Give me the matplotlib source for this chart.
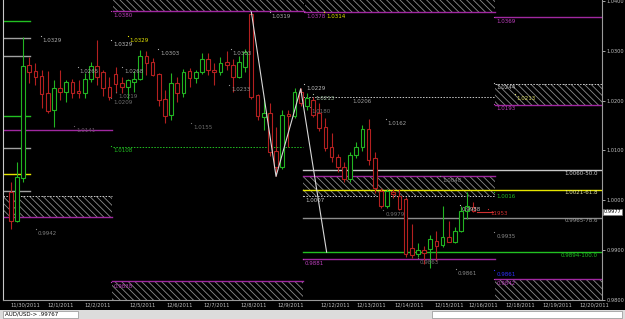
import matplotlib
matplotlib.use('Agg')
import matplotlib.pyplot as plt
from matplotlib.patches import Rectangle

plt.rcParams['hatch.linewidth'] = 0.6

# ---------------- candles (4h bars, AUD/USD) ----------------
opens = [1.0016, 0.9958, 1.0044, 1.0272, 1.0260, 1.0250, 1.0216, 1.0182, 1.0226, 1.0218,
         1.0238, 1.0220, 1.0216, 1.0244, 1.0270, 1.0258, 1.0228, 1.0254, 1.0236, 1.0228,
         1.0238, 1.0244, 1.0289, 1.0277, 1.0254, 1.0204, 1.0172, 1.0236, 1.0216, 1.0260,
         1.0246, 1.0258, 1.0284, 1.0262, 1.0258, 1.0278, 1.0272, 1.0248, 1.0268, 1.0374,
         1.0212, 1.0168, 1.0176, 1.0098, 1.0066, 1.0174, 1.0170, 1.0218, 1.0190, 1.0202,
         1.0176, 1.0148, 1.0108, 1.0086, 1.0066, 1.0042, 1.0090, 1.0108, 1.0144, 1.0084,
         1.0018, 0.9988, 1.0016, 1.0008, 1.0002, 0.9904, 0.9892, 0.9900, 0.9902, 0.9918,
         0.9910, 0.9926, 0.9916, 0.9938, 0.9978, 0.9986]
highs = [1.0036, 1.0076, 1.0328, 1.0288, 1.0276, 1.0262, 1.0260, 1.0242, 1.0262, 1.0242,
         1.0244, 1.0242, 1.0256, 1.0278, 1.0322, 1.0262, 1.0248, 1.0268, 1.0248, 1.0244,
         1.0260, 1.0302, 1.0299, 1.0286, 1.0256, 1.0222, 1.0256, 1.0248, 1.0264, 1.0266,
         1.0262, 1.0296, 1.0296, 1.0276, 1.0288, 1.0300, 1.0284, 1.0290, 1.0304, 1.0378,
         1.0214, 1.0206, 1.0196, 1.0148, 1.0182, 1.0182, 1.0226, 1.0226, 1.0216, 1.0208,
         1.0196, 1.0166, 1.0136, 1.0092, 1.0076, 1.0096, 1.0118, 1.0152, 1.0164, 1.0096,
         1.0024, 1.0022, 1.0022, 1.0022, 1.0006, 0.9952, 0.9914, 0.9908, 0.9930, 0.9938,
         0.9988, 0.9958, 0.9946, 0.9988, 1.0016, 0.9996]
lows = [0.9942, 0.9956, 1.0036, 1.0236, 1.0232, 1.0186, 1.0176, 1.0148, 1.0202, 1.0198,
        1.0206, 1.0206, 1.0206, 1.0238, 1.0232, 1.0210, 1.0202, 1.0216, 1.0216, 1.0204,
        1.0218, 1.0242, 1.0252, 1.0249, 1.0189, 1.0156, 1.0162, 1.0198, 1.0208, 1.0228,
        1.0236, 1.0254, 1.0252, 1.0232, 1.0252, 1.0262, 1.0218, 1.0246, 1.0258, 1.0204,
        1.0162, 1.0142, 1.0088, 1.0048, 1.0062, 1.0108, 1.0166, 1.0190, 1.0182, 1.0168,
        1.0140, 1.0098, 1.0076, 1.0056, 1.0036, 1.0036, 1.0084, 1.0098, 1.0070, 1.0014,
        0.9984, 0.9984, 1.0004, 0.9980, 0.9886, 0.9884, 0.9886, 0.9872, 0.9864, 0.9878,
        0.9906, 0.9916, 0.9914, 0.9936, 0.9962, 0.9976]
closes = [0.9958, 1.0046, 1.0270, 1.0258, 1.0248, 1.0214, 1.0180, 1.0226, 1.0218, 1.0238,
          1.0216, 1.0216, 1.0244, 1.0270, 1.0248, 1.0226, 1.0208, 1.0234, 1.0228, 1.0242,
          1.0244, 1.0289, 1.0276, 1.0252, 1.0202, 1.0170, 1.0236, 1.0216, 1.0258, 1.0246,
          1.0258, 1.0284, 1.0262, 1.0258, 1.0276, 1.0272, 1.0248, 1.0278, 1.0298, 1.0208,
          1.0170, 1.0176, 1.0096, 1.0066, 1.0172, 1.0170, 1.0218, 1.0196, 1.0206, 1.0172,
          1.0146, 1.0106, 1.0086, 1.0066, 1.0042, 1.0090, 1.0108, 1.0144, 1.0080, 1.0024,
          0.9988, 1.0018, 1.0012, 0.9982, 0.9892, 0.9890, 0.9900, 0.9894, 0.9922, 0.9908,
          0.9926, 0.9916, 0.9938, 0.9978, 0.9988, 0.9978]

date_pos = [2.3, 8.15, 14.15, 21.3, 27.3, 33.35, 39.35, 45.3, 52.55, 58.5, 64.6, 71.1,
            76.6, 82.5, 88.5, 94.6]
date_lbl = ['11/30/2011', '12/1/2011', '12/2/2011', '12/5/2011', '12/6/2011', '12/7/2011',
            '12/8/2011', '12/9/2011', '12/12/2011', '12/13/2011', '12/14/2011', '12/15/2011',
            '12/16/2011', '12/18/2011', '12/19/2011', '12/20/2011']

# ---------------- drawn objects ----------------
hatch_zones = [(16.5, 47.6, 1.0380, 1.0410), (47.7, 78.5, 1.0378, 1.0410),
               (78.5, 96.0, 1.0192, 1.0234), (-1.3, 16.4, 0.9966, 1.0008),
               (16.4, 47.4, 0.9790, 0.9838), (47.4, 78.5, 1.0008, 1.0048),
               (78.5, 96.0, 0.9790, 0.9842)]
purple_lines = [(16.5, 47.6, 1.0380), (47.7, 78.5, 1.0378), (78.5, 96.0, 1.0368),
                (78.5, 96.0, 1.0192), (-1.3, 16.4, 1.0142), (-1.3, 16.4, 0.9966),
                (16.4, 47.4, 0.9838), (47.4, 78.5, 1.0048), (47.4, 78.5, 0.9882),
                (78.5, 96.0, 0.9842)]
white_dotted = [(78.5, 96.0, 1.0234), (-1.3, 16.4, 1.0008), (47.4, 78.5, 1.0008),
                (47.4, 78.5, 1.0208)]
green_dotted = [(16.5, 47.4, 1.0108)]

fib_levels = [1.0060, 1.0021, 0.9965, 0.9896]
fib_colors = ['#c8c8c8', '#e6e600', '#8c8c8c', '#22c022']
fib_labels = ['1.0060-50.0', '1.0021-61.8', '0.9965-78.6', '0.9894-100.0']
fib_text_colors = ['#d0d0d0', '#e8e8a0', '#9a9a9a', '#22c022']

left_levels = [1.0360, 1.0326, 1.0290, 1.0170, 1.0106, 1.0053, 1.0018]
left_colors = ['#22c022', '#a0a0a0', '#a0a0a0', '#22c022', '#a0a0a0', '#e6e600', '#a0a0a0']

zz_x = [39, 43, 47, 51.2]
zz_y = [1.0378, 1.0048, 1.0224, 0.9896]

# labels: x index, price, text, color
notes = [
    (5.2, 1.0320, '1.0329', '#b0b0b0'), (16.6, 1.0312, '1.0329', '#c0c0c0'),
    (19.3, 1.0320, '1.0329', '#e6e600'), (24.2, 1.0294, '1.0303', '#b0b0b0'),
    (11.2, 1.0258, '1.0265', '#a0a0a0'), (18.4, 1.0258, '1.0268', '#a0a0a0'),
    (36.0, 1.0294, '1.0303', '#a0a0a0'), (35.7, 1.0222, '1.0233', '#909090'),
    (17.4, 1.0208, '1.0219', '#707070'), (16.6, 1.0196, '1.0209', '#707070'),
    (29.6, 1.0146, '1.0155', '#707070'), (10.6, 1.0140, '1.0141', '#6a5a6a'),
    (42.3, 1.0368, '1.0319', '#b0b0b0'), (47.9, 1.0368, '1.0378', '#c040c0'),
    (51.1, 1.0368, '1.0314', '#e6e600'), (16.6, 1.0370, '1.0380', '#c040c0'),
    (78.7, 1.0358, '1.0369', '#c040c0'), (78.7, 1.0226, '1.0244', '#c0c0c0'),
    (82.0, 1.0204, '1.0213', '#d8d860'), (78.7, 1.0184, '1.0193', '#c040c0'),
    (47.9, 1.0224, '1.0229', '#c0c0c0'), (49.3, 1.0204, '1.0213', '#a0c0a0'),
    (48.8, 1.0178, '1.0180', '#707070'), (55.3, 1.0198, '1.0206', '#a0a0a0'),
    (61.1, 1.0154, '1.0162', '#a0a0a0'), (16.6, 1.0100, '1.0108', '#22c022'),
    (69.9, 1.0040, '1.0048', '#909090'), (47.7, 1.0000, '1.0007', '#c0c0c0'),
    (78.7, 1.0008, '1.0016', '#22c022'), (60.7, 0.9972, '0.9979', '#707070'),
    (73.1, 0.9982, '0.9988', '#c0c0c0'), (77.7, 0.9974, '11953', '#d03030'),
    (78.7, 0.9928, '0.9935', '#8a8a8a'), (66.3, 0.9876, '0.9863', '#707070'),
    (47.7, 0.9874, '0.9881', '#c040c0'), (72.5, 0.9854, '0.9861', '#8a8a8a'),
    (78.7, 0.9852, '0.9861', '#3030ff'), (78.7, 0.9834, '0.9842', '#c040c0'),
    (16.6, 0.9828, '0.9838', '#c040c0'), (4.4, 0.9934, '0.9942', '#808080'),
]

# ------------------------------------------------------------
fig = plt.figure(figsize=(6.25, 3.19), dpi=100, facecolor='black')
ax = fig.add_axes([3 / 625, 19 / 319, 599 / 625, 300 / 319])
ax.set_facecolor('black')
ax.set_xlim(-1.25, 95.83)
ax.set_ylim(0.9802, 1.0402)

for x0, x1, lo, hi in hatch_zones:
    ax.add_patch(Rectangle((x0, lo), x1 - x0, hi - lo, facecolor='black',
                           edgecolor='#8c8c8c', hatch='\\\\\\\\\\', lw=0, zorder=1))
for x0, x1, p in purple_lines:
    ax.plot([x0, x1], [p, p], color='#a028a0', lw=1, zorder=2)
for x0, x1, p in white_dotted:
    ax.plot([x0, x1], [p, p], color='#c8c8c8', lw=0.7, ls=(0, (1.5, 1.5)), zorder=2)
for x0, x1, p in green_dotted:
    ax.plot([x0, x1], [p, p], color='#22c022', lw=0.7, ls=(0, (1.5, 1.5)), zorder=2)
for p, c in zip(left_levels, left_colors):
    ax.plot([-1.3, 3.1], [p, p], color=c, lw=1, zorder=2)
for p, c, t, tc in zip(fib_levels, fib_colors, fib_labels, fib_text_colors):
    ax.plot([47.4, 96.0], [p, p], color=c, lw=1, zorder=2)
    ax.text(95.2, p - 0.0006, t, color=tc, fontsize=4, ha='right', va='center', zorder=6)

# candles
idx = list(range(len(opens)))
cols = ['#22b422' if c >= o else '#b42020' for o, c in zip(opens, closes)]
ax.vlines(idx, lows, highs, colors=cols, lw=0.8, zorder=3)
bot = [min(o, c) for o, c in zip(opens, closes)]
hgt = [max(abs(c - o), 0.00015) for o, c in zip(opens, closes)]
ax.bar(idx, hgt, bottom=bot, width=0.6, facecolor='black', edgecolor=cols, lw=0.8, zorder=4)

ax.plot(zz_x, zz_y, color='#d8d8d8', lw=0.8, zorder=5)
ax.plot([75.5, 78.1], [0.9977, 0.9977], color='#d03030', lw=0.8, zorder=5)

for x, p, t, c in notes:
    ax.text(x, p, t, color=c, fontsize=4, ha='left', va='center', zorder=6)
    ax.plot(x - 0.3, p + 0.0009, marker='s', ms=0.8, color=c, mew=0, zorder=6)

# axes styling
ax.spines['top'].set_visible(False)
ax.spines['left'].set_color('#c8c8c8')
ax.spines['bottom'].set_color('#9a9a9a')
ax.spines['right'].set_color('#9a9a9a')
ax.yaxis.tick_right()
ax.set_yticks([0.98, 0.99, 1.00, 1.01, 1.02, 1.03, 1.04])
ax.set_yticklabels(['%.4f' % v for v in [0.98, 0.99, 1.00, 1.01, 1.02, 1.03, 1.04]])
ax.tick_params(axis='y', colors='#c0c0c0', labelsize=3.6, length=2, width=0.6, pad=1.5)
ax.set_xticks(date_pos)
ax.set_xticklabels(date_lbl)
ax.tick_params(axis='x', colors='#c0c0c0', labelsize=3.7, length=0, pad=2)

ax.text(1.003, 0.9977, '0.9977', transform=ax.get_yaxis_transform(), fontsize=3.6,
        color='black', va='center', ha='left',
        bbox=dict(boxstyle='square,pad=0.15', fc='white', ec='#808080', lw=0.5), zorder=7)

# status bar
fig.patches.append(Rectangle((0, 0), 1, 9 / 319, transform=fig.transFigure,
                             facecolor='#dcdcdc', edgecolor='none', zorder=0))
fig.patches.append(Rectangle((3 / 625, 1 / 319), 75 / 625, 7.5 / 319, transform=fig.transFigure,
                             facecolor='white', edgecolor='#909090', lw=0.5, zorder=1))
fig.patches.append(Rectangle((432 / 625, 1 / 319), 190 / 625, 7.5 / 319, transform=fig.transFigure,
                             facecolor='white', edgecolor='#909090', lw=0.5, zorder=1))
fig.text(5 / 625, 4.8 / 319, 'AUD/USD-> .99767', fontsize=4, color='black', va='center')

fig.savefig('out.png', dpi=100, facecolor='black')
